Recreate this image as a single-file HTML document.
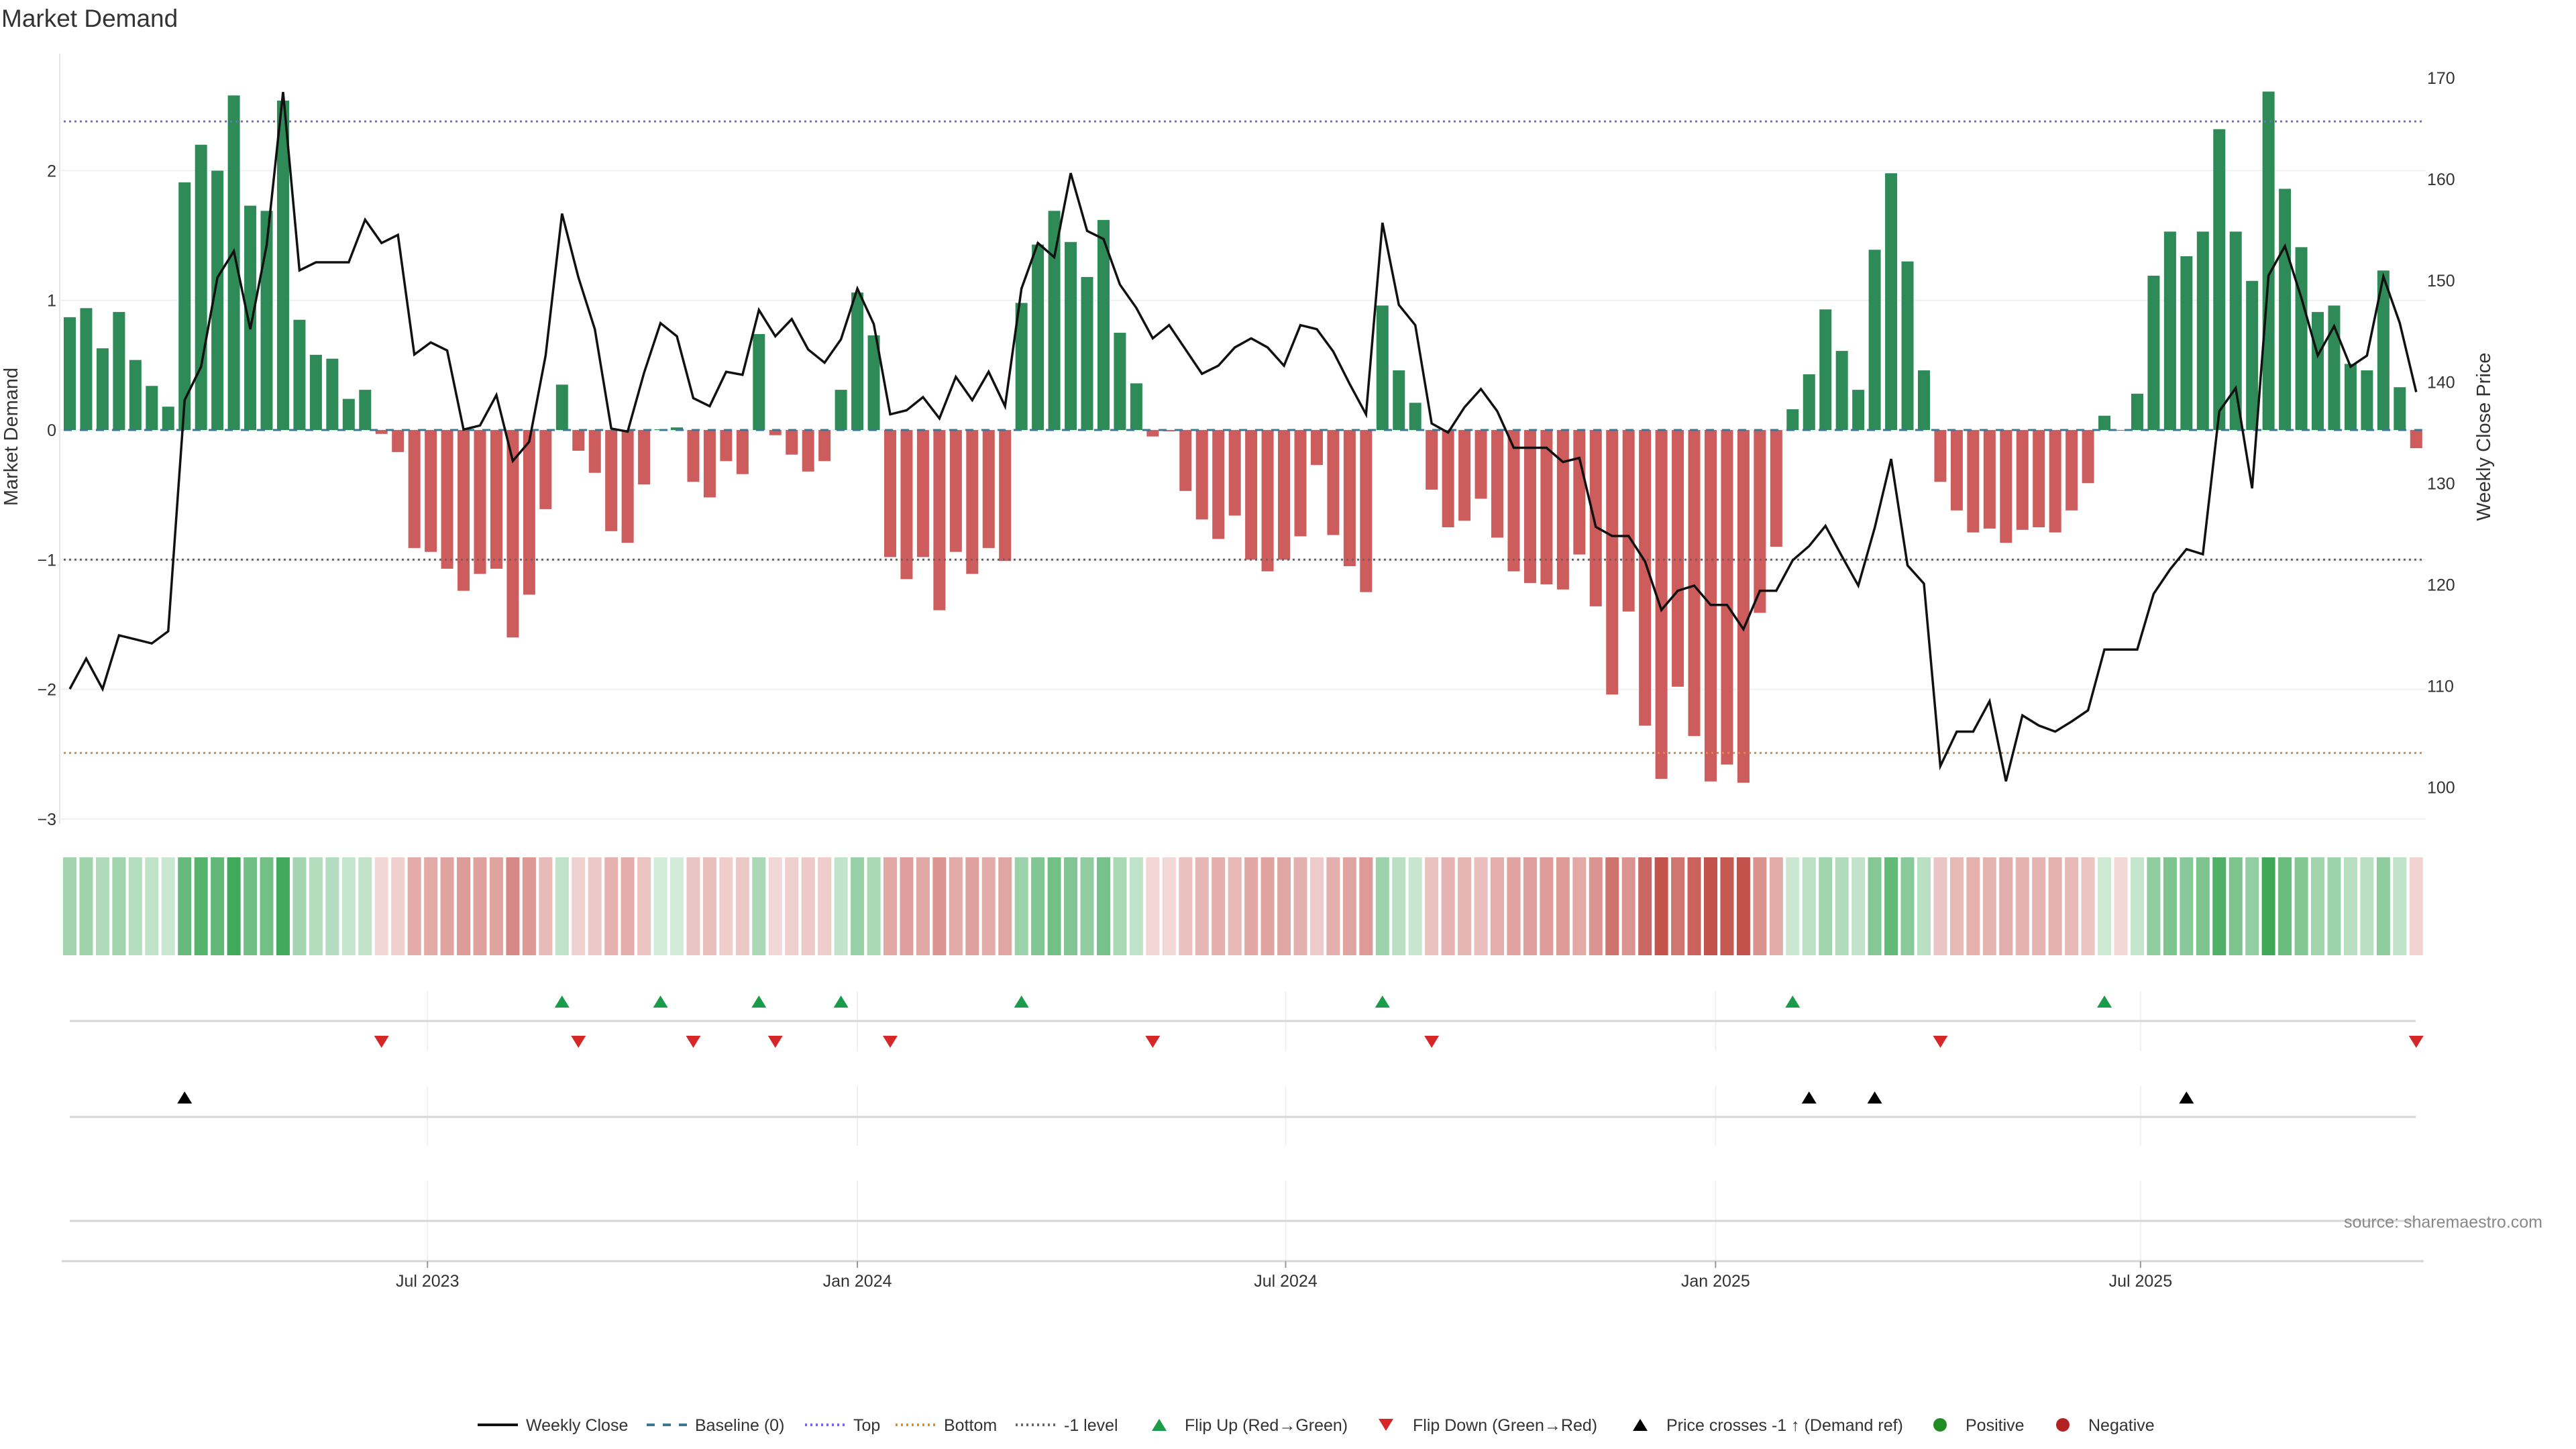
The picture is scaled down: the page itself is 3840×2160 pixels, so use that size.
<!DOCTYPE html>
<html><head><meta charset="utf-8"><style>
html,body{margin:0;padding:0;background:#fff;}
svg{display:block;font-family:"Liberation Sans","DejaVu Sans",sans-serif;}
</style></head><body>
<svg id="chart" width="3840" height="2160" viewBox="0 0 3840 2160" xmlns="http://www.w3.org/2000/svg">
<rect width="3840" height="2160" fill="#fff"/>
<text x="2" y="40" font-size="37" fill="#333">Market Demand</text>
<g id="main"></g>
<text transform="translate(26,651) rotate(-90)" text-anchor="middle" font-size="29" fill="#333">Market Demand</text>
<text transform="translate(3712,651) rotate(-90)" text-anchor="middle" font-size="29" fill="#333">Weekly Close Price</text>
<text x="3790" y="1830" text-anchor="end" font-size="25" fill="#888">source: sharemaestro.com</text>
<g id="legend"></g>
</svg>
<script>
const demand=[0.87,0.94,0.63,0.91,0.54,0.34,0.18,1.91,2.20,2.00,2.58,1.73,1.69,2.54,0.85,0.58,0.55,0.24,0.31,-0.03,
-0.17,-0.91,-0.94,-1.07,-1.24,-1.11,-1.07,-1.60,-1.27,-0.61,0.35,-0.16,-0.33,-0.78,-0.87,-0.42,0.005,0.02,-0.40,-0.52,
-0.24,-0.34,0.74,-0.04,-0.19,-0.32,-0.24,0.31,1.06,0.73,-0.98,-1.15,-0.98,-1.39,-0.94,-1.11,-0.91,-1.01,0.98,1.43,
1.69,1.45,1.18,1.62,0.75,0.36,-0.05,-0.01,-0.47,-0.69,-0.84,-0.66,-1.00,-1.09,-1.00,-0.82,-0.27,-0.81,-1.05,-1.25,
0.96,0.46,0.21,-0.46,-0.75,-0.70,-0.53,-0.83,-1.09,-1.18,-1.19,-1.23,-0.96,-1.36,-2.04,-1.40,-2.28,-2.69,-1.98,-2.36,
-2.71,-2.58,-2.72,-1.41,-0.90,0.16,0.43,0.93,0.61,0.31,1.39,1.98,1.30,0.46,-0.40,-0.62,-0.79,-0.76,-0.87,-0.77,
-0.75,-0.79,-0.62,-0.41,0.11,-0.005,0.28,1.19,1.53,1.34,1.53,2.32,1.53,1.15,2.61,1.86,1.41,0.91,0.96,0.51,
0.46,1.23,0.33,-0.14];
const price=[109.7,112.7,109.7,115.0,114.6,114.2,115.4,138.2,141.5,150.3,152.9,145.2,153.5,168.6,151.0,151.8,151.8,151.8,156.0,153.7,
154.5,142.7,143.9,143.1,135.3,135.7,138.7,132.2,134.1,142.6,156.6,150.3,145.2,135.4,135.1,140.9,145.8,144.5,138.4,137.6,
141.0,140.7,147.1,144.5,146.2,143.2,141.9,144.2,149.2,145.7,136.8,137.2,138.5,136.4,140.5,138.2,141.0,137.6,149.2,153.7,
152.3,160.6,154.9,154.1,149.6,147.3,144.3,145.6,143.2,140.8,141.6,143.4,144.3,143.4,141.6,145.6,145.2,143.0,139.8,136.8,
155.7,147.6,145.6,135.9,135.0,137.5,139.3,137.1,133.5,133.5,133.5,132.1,132.5,125.7,124.8,124.8,122.3,117.5,119.4,119.9,
118.0,118.0,115.6,119.4,119.4,122.4,123.8,125.8,122.8,119.9,125.6,132.4,121.9,120.1,102.1,105.5,105.5,108.5,100.6,107.1,
106.1,105.5,106.5,107.6,113.6,113.6,113.6,119.1,121.5,123.5,123.0,137.1,139.4,129.5,150.5,153.4,148.3,142.6,145.5,141.5,
142.6,150.4,145.8,139.0];
const flipUp=[30,36,42,47,58,80,105,124];
const flipDown=[19,31,38,43,50,66,83,114,143];
const priceCross=[7,106,110,129];
const yTicks=[2,1,0,-1,-2,-3];
const yTickLabels=["2","1","0","\u22121","\u22122","\u22123"];
const pTicks=[170,160,150,140,130,120,110,100];
const xTickIdx=[21.8,48,74.1,100.3,126.2];
const xTickLabels=["Jul 2023","Jan 2024","Jul 2024","Jan 2025","Jul 2025"];
const levels={top:2.38,bottom:-2.49,minus1:-1};

const NS="http://www.w3.org/2000/svg";
const main=document.getElementById('main');
function el(tag,attrs,parent){const e=document.createElementNS(NS,tag);for(const k in attrs)e.setAttribute(k,attrs[k]);(parent||main).appendChild(e);return e;}
const X=i=>104+24.46*i;
const Y=v=>641-193.3*v;
const P=p=>116+(170-p)*15.11;
const bw=18;

let e;
e=el('line',{x1:89,y1:80,x2:89,y2:1228,stroke:'#e6e6e6','stroke-width':2});


yTicks.forEach((t,k)=>{
  e=el('line',{x1:89,y1:Y(t),x2:3616,y2:Y(t),stroke:'#eef0f4','stroke-width':2});
  
  
  e=el('text',{x:84,y:Y(t)+9,'text-anchor':'end','font-size':25,fill:'#333'});
  e.textContent=yTickLabels[k];
  
  
});
pTicks.forEach(t=>{
  e=el('text',{x:3618,y:P(t)+9,'text-anchor':'start','font-size':25,fill:'#333'});
  e.textContent=String(t);
  
  
});
demand.forEach((v,i)=>{
  const y0=Y(0),y1=Y(v);
  e=el('rect',{x:X(i)-bw/2,y:Math.min(y0,y1),width:bw,height:Math.max(1,Math.abs(y1-y0)),fill:v>=0?'#2e8b57':'#cd5c5c'});
  
  
});
const x0=X(0)-bw/2,x1=X(demand.length-1)+bw/2;
e=el('line',{x1:x0,y1:Y(levels.top),x2:x1,y2:Y(levels.top),stroke:'#7b68d8','stroke-width':3,'stroke-dasharray':'3 5'});


e=el('line',{x1:x0,y1:Y(levels.bottom),x2:x1,y2:Y(levels.bottom),stroke:'#e8892b','stroke-width':3,'stroke-dasharray':'3 5'});


e=el('line',{x1:x0,y1:Y(levels.minus1),x2:x1,y2:Y(levels.minus1),stroke:'#666','stroke-width':3,'stroke-dasharray':'3 5'});


e=el('line',{x1:x0,y1:Y(0),x2:x1,y2:Y(0),stroke:'#3b7896','stroke-width':3,'stroke-dasharray':'12 12'});


e=el('polyline',{points:price.map((p,i)=>X(i)+','+P(p)).join(' '),fill:'none',stroke:'#111','stroke-width':3.5,'stroke-linejoin':'miter'});


demand.forEach((v,i)=>{
  const t=0.22+0.78*Math.min(Math.abs(v)/2.7,1);
  const base=v>=0?[58,166,85]:[196,82,76];
  const c=base.map(b=>Math.round(255-(255-b)*t));
  e=el('rect',{x:X(i)-10,y:1278,width:20,height:146,fill:'rgb('+c.join(',')+')'});
  
  
});
const gx0=104,gx1=3601;
[[1478,1567],[1619,1708],[1760,1880]].forEach(r=>{
  xTickIdx.forEach(ix=>{
    e=el('line',{x1:X(ix),y1:r[0],x2:X(ix),y2:r[1],stroke:'#eef0f4','stroke-width':2});
    
    
  });
});
[1522,1665,1820].forEach(y=>{
  e=el('line',{x1:gx0,y1:y,x2:gx1,y2:y,stroke:'#d6d6d6','stroke-width':3});
  
  
});
e=el('line',{x1:92,y1:1880,x2:3613,y2:1880,stroke:'#d6d6d6','stroke-width':3});


xTickIdx.forEach((ix,k)=>{
  e=el('line',{x1:X(ix),y1:1880,x2:X(ix),y2:1890,stroke:'#999','stroke-width':2});
  
  
  e=el('text',{x:X(ix),y:1918,'text-anchor':'middle','font-size':25,fill:'#333'});
  e.textContent=xTickLabels[k];
  
  
});
function tri(cx,cy,up,fill,parent){
  const h=18,w=11;
  const pts=up?[[cx,cy-h/2],[cx+w,cy+h/2],[cx-w,cy+h/2]]:[[cx-w,cy-h/2],[cx+w,cy-h/2],[cx,cy+h/2]];
  return el('polygon',{points:pts.map(p=>p.join(',')).join(' '),fill:fill},parent);
}
flipUp.forEach(i=>{e=tri(X(i),1493,true,'#1a9c4a');
  
  });
flipDown.forEach(i=>{e=tri(X(i),1553,false,'#d62728');
  
  });
priceCross.forEach(i=>{e=tri(X(i),1636,true,'#000');
  
  });
const lg=document.getElementById('legend');
const ly=2124;
function lt(x,s,name){const t=el('text',{x:x,y:ly+9,'font-size':25,fill:'#333'},lg);t.textContent=s;}
function ll(x,stroke,dash,name){const l=el('line',{x1:x,y1:ly,x2:x+60,y2:ly,stroke:stroke,'stroke-width':4,'stroke-dasharray':dash},lg);}
ll(712,'#111','none','legend-weekly-close-swatch');lt(784,'Weekly Close','legend-weekly-close');
ll(964,'#3b7896','12 12','legend-baseline-swatch');lt(1036,'Baseline (0)','legend-baseline');
ll(1200,'#7b68d8','3 5','legend-top-swatch');lt(1272,'Top','legend-top');
ll(1335,'#e8892b','3 5','legend-bottom-swatch');lt(1407,'Bottom','legend-bottom');
ll(1514,'#666','3 5','legend-minus1-swatch');lt(1586,'-1 level','legend-minus1');
e=tri(1728,ly,true,'#1a9c4a',lg);


lt(1766,'Flip Up (Red\u2192Green)','legend-flip-up');
e=tri(2066,ly,false,'#d62728',lg);


lt(2106,'Flip Down (Green\u2192Red)','legend-flip-down');
e=tri(2445,ly,true,'#000',lg);


lt(2484,'Price crosses -1 \u2191 (Demand ref)','legend-price-cross');
e=el('circle',{cx:2892,cy:ly,r:10,fill:'#228b22'},lg);


lt(2930,'Positive','legend-positive');
e=el('circle',{cx:3075,cy:ly,r:10,fill:'#b22222'},lg);


lt(3113,'Negative','legend-negative');
</script>
</body></html>
